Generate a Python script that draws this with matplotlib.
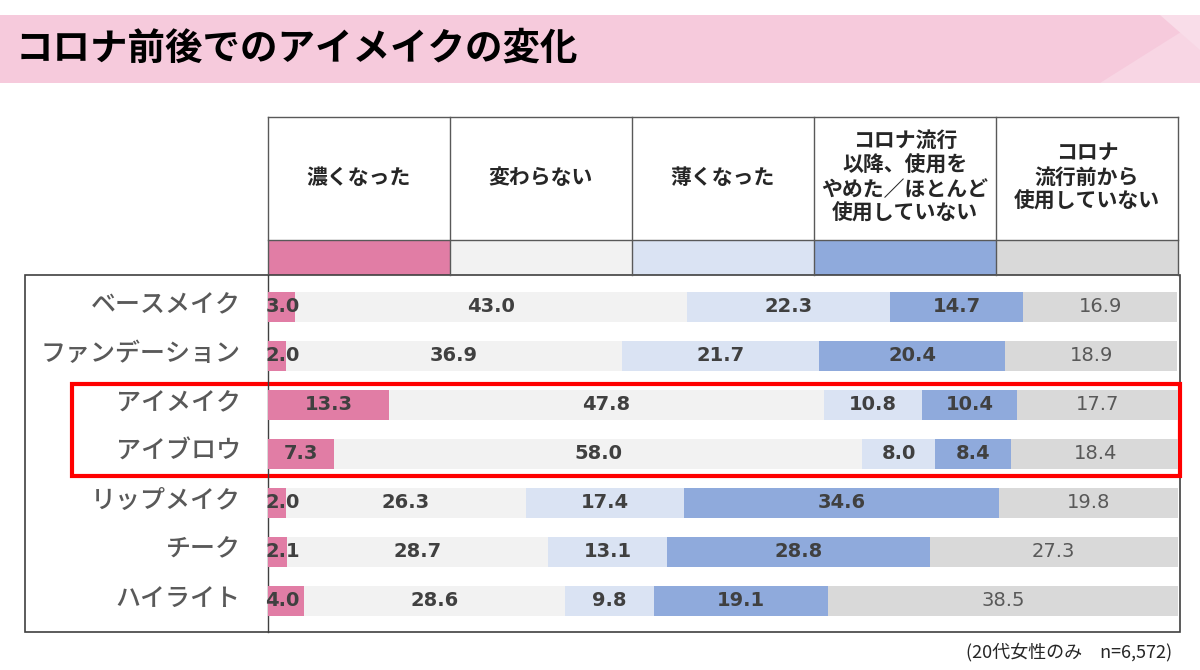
import numpy as np
import matplotlib
matplotlib.use('Agg')
import matplotlib.pyplot as plt
from matplotlib.patches import Rectangle, Polygon

plt.rcParams['font.family'] = ['Noto Sans CJK JP', 'DejaVu Sans']

title = 'コロナ前後でのアイメイクの変化'
categories = ['ベースメイク', 'ファンデーション', 'アイメイク', 'アイブロウ',
              'リップメイク', 'チーク', 'ハイライト']
columns = ['濃くなった', '変わらない', '薄くなった',
           'コロナ流行\n以降、使用を\nやめた／ほとんど\n使用していない',
           'コロナ\n流行前から\n使用していない']
darker = [3.0, 2.0, 13.3, 7.3, 2.0, 2.1, 4.0]
same = [43.0, 36.9, 47.8, 58.0, 26.3, 28.7, 28.6]
lighter = [22.3, 21.7, 10.8, 8.0, 17.4, 13.1, 9.8]
stopped = [14.7, 20.4, 10.4, 8.4, 34.6, 28.8, 19.1]
never = [16.9, 18.9, 17.7, 18.4, 19.8, 27.3, 38.5]
note = '(20代女性のみ　n=6,572)'

colors = ['#E17DA5', '#F2F2F2', '#DAE3F3', '#8FAADC', '#D9D9D9']
series = [darker, same, lighter, stopped, never]

W, H = 1200, 670
fig = plt.figure(figsize=(12, 6.7), dpi=100)
bg = fig.add_axes([0, 0, 1, 1])
bg.set_xlim(0, W)
bg.set_ylim(H, 0)
bg.axis('off')

# title banner
bg.add_patch(Rectangle((0, 15), W, 68, color='#F6CADC', lw=0))
bg.add_patch(Polygon([[1100, 83], [1200, 20], [1200, 83]], color='#F8D6E4', lw=0))
bg.add_patch(Polygon([[1160, 15], [1200, 15], [1200, 50]], color='#F9DDE9', lw=0))
bg.text(16, 48, title, fontsize=27, fontweight='bold', va='center', ha='left', color='black')

# header table
x0, x1 = 268, 1178
colw = (x1 - x0) / 5
for i, (lab, c) in enumerate(zip(columns, colors)):
    left = x0 + i * colw
    bg.add_patch(Rectangle((left, 241), colw, 34, color=c, lw=0))
    bg.text(left + colw / 2, 177, lab, fontsize=15, fontweight='bold', ha='center',
            va='center', color='#262626', linespacing=1.2)
for i in range(6):
    bg.plot([x0 + i * colw] * 2, [117, 275], color='#595959', lw=1)
bg.plot([x0, x1], [117, 117], color='#595959', lw=1)
bg.plot([x0, x1], [240, 240], color='#595959', lw=1)

# outer frame of the bar area
bg.add_patch(Rectangle((25, 275), 1155, 357, fill=False, ec='#404040', lw=1.2))
bg.plot([268, 268], [275, 632], color='#404040', lw=1)

# bars
ax = fig.add_axes([268 / W, 1 - 632 / H, (x1 - 268) / W, 357 / H])
ax.set_xlim(0, 100)
y = np.arange(len(categories))
ax.set_ylim(6.64, -0.65)
ax.axis('off')
left = np.zeros(len(categories))
num_font = ['DejaVu Sans']
for k, (vals, c) in enumerate(zip(series, colors)):
    vals = np.array(vals)
    ax.barh(y, vals, left=left, height=0.61, color=c, lw=0)
    for yi, v, l in zip(y, vals, left):
        if k == 4:
            ax.text(l + v / 2, yi, f'{v:.1f}', ha='center', va='center',
                    fontsize=14, color='#595959', family=num_font)
        elif v < 5:
            ax.text(l - 0.3, yi, f'{v:.1f}', ha='left', va='center',
                    fontsize=14, fontweight='bold', color='#404040', family=num_font)
        else:
            ax.text(l + v / 2, yi, f'{v:.1f}', ha='center', va='center',
                    fontsize=14, fontweight='bold', color='#404040', family=num_font)
    left = left + vals

for yi, cat in zip(y, categories):
    ax.text(-3, yi - 0.04, cat, ha='right', va='center', fontsize=18,
            fontweight='medium', color='#595959')

# highlight box
bg.add_patch(Rectangle((72, 384), 1108, 92, fill=False, ec='#FF0000', lw=3))

bg.text(1172, 652, note, fontsize=13, ha='right', va='center', color='#262626')

fig.savefig('out.png', dpi=100)
